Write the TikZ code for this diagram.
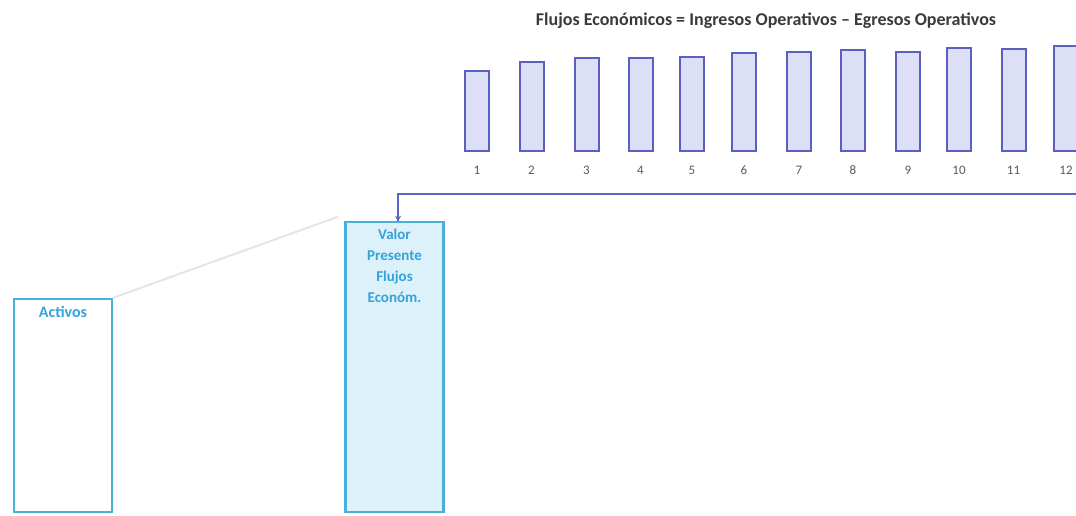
\documentclass[tikz,border=0pt]{standalone}
\usepackage{fontspec}
\setmainfont{Carlito}
\usetikzlibrary{arrows.meta}
\definecolor{barfill}{HTML}{DCDFF5}
\definecolor{bardraw}{HTML}{5A60C2}
\definecolor{flowline}{HTML}{5B62C8}
\definecolor{boxdraw}{HTML}{4AAFD9}
\definecolor{boxtext}{HTML}{33A3D8}
\definecolor{valfill}{HTML}{DDF1FB}
\definecolor{titlegray}{HTML}{3A3A3A}
\definecolor{labgray}{HTML}{5A5A5A}
\tikzset{
  flowbar/.style={draw=bardraw, fill=barfill, line width=2pt, minimum width=24pt, inner sep=0pt, anchor=south},
  numlab/.style={text=labgray, font=\fontsize{13}{13}\selectfont, inner sep=0pt},
  bigbox/.style={draw=boxdraw, line width=2.6pt, minimum width=98pt, inner sep=0pt},
  boxlabel/.style={text=boxtext, font=\bfseries\fontsize{15}{21}\selectfont, align=center, anchor=north, inner sep=0pt},
}
\begin{document}
\begin{tikzpicture}[x=1pt,y=-1pt]
\useasboundingbox (0,0) rectangle (1076,516);
\clip (0,0) rectangle (1076,516);
\node[text=titlegray, font=\bfseries\fontsize{18}{18}\selectfont] (title) at (766,21) {Flujos Económicos = Ingresos Operativos – Egresos Operativos};
\foreach \i/\cx/\h in {1/477/80, 2/531.5/89, 3/586.5/93, 4/640.5/93, 5/692/94, 6/744/98, 7/799/99, 8/853/101, 9/908/99, 10/959/103, 11/1013.5/102, 12/1066/105} {
  \node[flowbar, minimum height=\h pt] (bar\i) at (\cx,152) {};
  \node[numlab] (lab\i) at (\cx,170) {\i};
}
\node[bigbox, fill=valfill, minimum height=290pt] (valor) at (394.5,367) {};
\node[boxlabel] (valortext) at ([yshift=-8pt]valor.north) {Valor\\Presente\\Flujos\\Económ.};
\node[bigbox, fill=white, minimum height=213pt] (activos) at (63,405.5) {};
\node[boxlabel, font=\bfseries\fontsize{16}{21}\selectfont] (activostext) at ([yshift=-8pt]activos.north) {Activos};
\coordinate (flowend) at (1080,194);
\coordinate (corner) at (398,194);
\draw[flowline, line width=2.6pt] (flowend) -- (corner) -- ([xshift=3.5pt]valor.north);
\draw[flowline, line width=1pt, -{Stealth[length=6pt,width=6pt]}] ([xshift=3.5pt]valor.north) ++(0,-10) -- ([xshift=3.5pt,yshift=-1pt]valor.north);
\draw[gray!20, line width=2pt] (activos.north east) -- ([xshift=-6pt,yshift=4pt]valor.north west);
\end{tikzpicture}
\end{document}
